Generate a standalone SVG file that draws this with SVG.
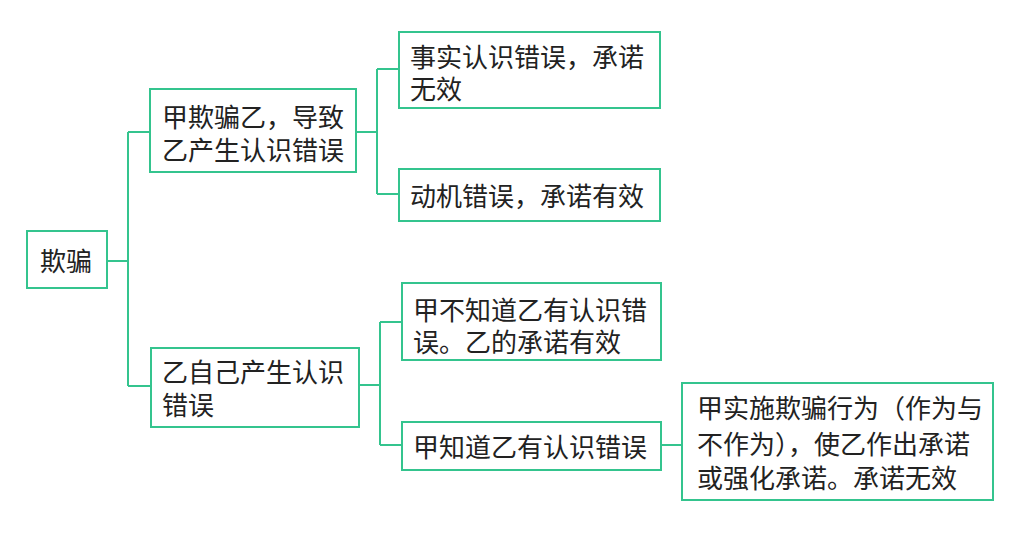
<svg xmlns="http://www.w3.org/2000/svg" width="1026" height="540" viewBox="0 0 1026 540">
<style>
.box{fill:#fff;stroke:#34c48e;stroke-width:2}
.ln{fill:none;stroke:#34c48e;stroke-width:2}
text{font-family:"Noto Sans CJK SC","Noto Sans CJK JP",sans-serif;font-size:26px;fill:#222}
</style>
<rect width="1026" height="540" fill="#fff"/>
<g id="connectors">
<path class="ln" d="M107 261H128M128 132V386M128 132H150M128 386H151"/>
<path class="ln" d="M356 132H377M377 69V194M377 69H399M377 194H399"/>
<path class="ln" d="M359 385H380M380 322V445M380 322H402M380 445H402"/>
<path class="ln" d="M661 445H682"/>
</g>
<g id="n-root"><rect class="box" x="27" y="231" width="80" height="57"/><text x="40" y="271">欺骗</text></g>
<g id="n-a"><rect class="box" x="150" y="89" width="206" height="83"/><text x="162" y="127">甲欺骗乙，导致</text><text x="162" y="160">乙产生认识错误</text></g>
<g id="n-b"><rect class="box" x="151" y="348" width="208" height="79"/><text x="162" y="382">乙自己产生认识</text><text x="162" y="415">错误</text></g>
<g id="n-a1"><rect class="box" x="399" y="32" width="261" height="76"/><text x="410" y="67">事实认识错误，承诺</text><text x="410" y="99">无效</text></g>
<g id="n-a2"><rect class="box" x="399" y="169" width="261" height="52"/><text x="410" y="206">动机错误，承诺有效</text></g>
<g id="n-b1"><rect class="box" x="402" y="283" width="259" height="77"/><text x="413" y="320">甲不知道乙有认识错</text><text x="413" y="352">误。乙的承诺有效</text></g>
<g id="n-b2"><rect class="box" x="402" y="422" width="259" height="48"/><text x="413" y="457">甲知道乙有认识错误</text></g>
<g id="n-b2a"><rect class="box" x="682" y="383" width="311" height="117"/><text x="697" y="418">甲实施欺骗行为（作为与</text><text x="697" y="454">不作为），使乙作出承诺</text><text x="697" y="488">或强化承诺。承诺无效</text></g>
</svg>
